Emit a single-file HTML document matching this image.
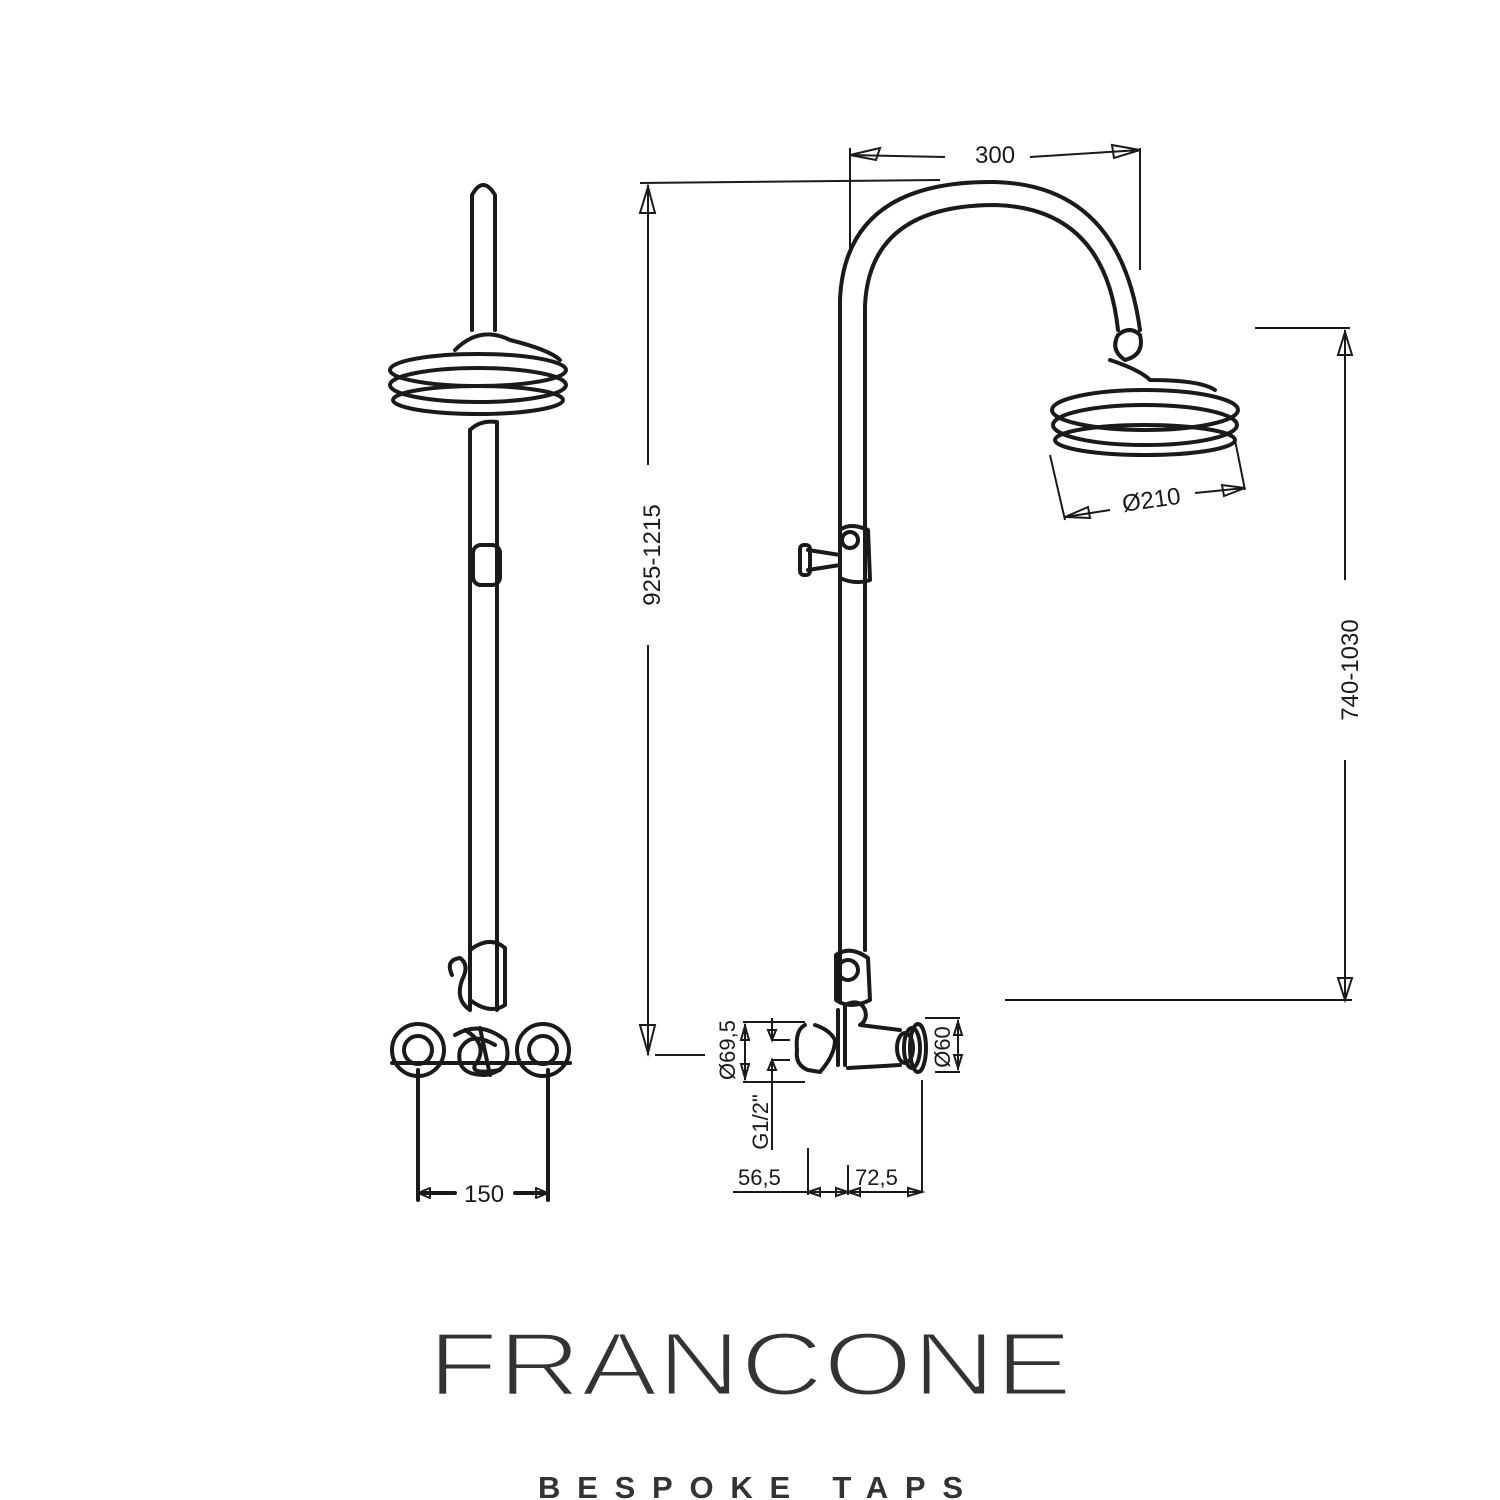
<!DOCTYPE html>
<html><head><meta charset="utf-8"><style>
html,body{margin:0;padding:0;background:#fff;}
svg{display:block;}
</style></head><body>
<svg width="1500" height="1500" viewBox="0 0 1500 1500" xmlns="http://www.w3.org/2000/svg">
<g fill="none" stroke="#1a1a1a" stroke-width="4" stroke-linecap="round" stroke-linejoin="round">
<!-- LEFT VIEW -->
<path d="M472 330 L472 195 Q483 175 495 195 L495 330"/>
<path d="M455 350 Q480 325 510 340 Q550 350 560 360"/>
<ellipse cx="478" cy="370" rx="88" ry="16"/>
<ellipse cx="478" cy="385" rx="88" ry="17"/>
<ellipse cx="478" cy="400" rx="85" ry="14"/>
<path d="M470 430 Q480 420 497 422 L497 1010"/>
<path d="M470 430 L470 1010"/>
<rect x="473" y="545" width="27" height="40" rx="8"/>
<path d="M470 950 Q490 935 505 948 L505 1005 Q490 1015 470 1000"/>
<path d="M452 975 Q445 960 460 958 Q470 965 462 980 Q455 1000 470 1010"/>
<circle cx="418" cy="1050" r="26"/>
<circle cx="418" cy="1050" r="14"/>
<circle cx="543" cy="1050" r="26"/>
<circle cx="543" cy="1050" r="14"/>
<path d="M455 1035 Q480 1020 505 1040 Q515 1070 485 1075 Q455 1075 460 1050 Q470 1030 495 1045"/>
<path d="M465 1030 Q490 1045 475 1065 Q470 1075 500 1070 M480 1028 L490 1075"/>
<path d="M392 1063 L570 1063"/>
<path d="M418 1070 L418 1200 M548 1070 L548 1200"/>
<path d="M418 1193 L455 1193 M515 1193 L548 1193"/>
<path d="M418 1193 L430 1188 L430 1198 Z M548 1193 L536 1188 L536 1198 Z" stroke-width="2"/>
<!-- RIGHT VIEW pipe -->
<path d="M840 1000 L840 300 Q845 180 995 182 Q1120 185 1140 330"/>
<path d="M865 950 L865 305 Q870 205 995 205 Q1105 208 1118 330"/>
<path d="M1118 335 Q1130 325 1140 335 Q1145 355 1125 360 Q1110 350 1118 335"/>
<path d="M1110 360 Q1140 370 1150 380 Q1200 380 1215 390"/>
<ellipse cx="1145" cy="410" rx="93" ry="20"/>
<ellipse cx="1145" cy="425" rx="92" ry="20"/>
<ellipse cx="1145" cy="440" rx="90" ry="15"/>
<!-- slider -->
<path d="M840 530 Q850 522 868 530 L870 580 Q855 585 840 578 Z"/>
<circle cx="850" cy="540" r="8"/>
<path d="M808 550 L840 555 M808 570 L840 565"/>
<rect x="800" y="545" width="10" height="30" rx="4"/>
<!-- bottom valve -->
<path d="M836 955 Q850 945 868 958 L870 1000 Q850 1010 836 1000 Z"/>
<circle cx="848" cy="970" r="10"/>
<path d="M838 1010 L838 1065 M845 1065 L845 1005 Q860 998 865 1010 Q868 1020 860 1025 L900 1030"/>
<path d="M848 1068 L900 1065"/>
<ellipse cx="905" cy="1048" rx="8" ry="15"/>
<ellipse cx="912" cy="1048" rx="8" ry="20"/>
<ellipse cx="918" cy="1048" rx="8" ry="24"/>
<path d="M805 1025 Q795 1030 797 1050 Q795 1065 808 1070 L820 1072 Q835 1055 835 1040 Q830 1030 815 1025"/>
</g>
<!-- dimensions -->
<g fill="none" stroke="#1a1a1a" stroke-width="2">
<path d="M850 148 L850 255 M1140 148 L1140 270"/>
<path d="M850 155 L945 157 M1030 157 L1140 150"/>
<path d="M850 155 L880 148 L876 160 Z M1140 150 L1112 145 L1114 158 Z"/>
<path d="M640 183 L940 180"/>
<path d="M648 185 L648 465 M648 645 L648 1055"/>
<path d="M648 187 L640 213 L655 213 Z M648 1053 L640 1025 L655 1025 Z"/>
<path d="M655 1055 L705 1055"/>
<path d="M1255 328 L1350 328"/>
<path d="M1345 330 L1345 580 M1345 760 L1345 1000"/>
<path d="M1345 332 L1338 355 L1352 355 Z M1345 1000 L1338 978 L1352 978 Z"/>
<path d="M1005 1000 L1352 1000"/>
<path d="M1050 455 L1065 520 M1235 440 L1245 490"/>
<path d="M1065 517 L1110 510 M1195 493 L1245 488"/>
<path d="M1065 517 L1088 507 L1090 518 Z M1245 488 L1222 485 L1224 496 Z"/>
<path d="M743 1022 L805 1022 M743 1082 L805 1082"/>
<path d="M745 1024 L745 1080"/>
<path d="M745 1026 L741 1040 L749 1040 Z M745 1078 L741 1064 L749 1064 Z"/>
<path d="M772 1018 L772 1040 L790 1040 M772 1150 L772 1060 L790 1060"/>
<path d="M772 1040 L768 1030 L776 1030 Z M772 1060 L768 1070 L776 1070 Z"/>
<path d="M925 1018 L960 1018 M935 1072 L960 1072 M958 1020 L958 1070"/>
<path d="M958 1022 L954 1035 L962 1035 Z M958 1068 L954 1055 L962 1055 Z"/>
<path d="M922 1080 L922 1192 M808 1148 L808 1195 M848 1165 L848 1195"/>
<path d="M733 1192 L922 1192"/>
<path d="M808 1192 L820 1188 L820 1196 Z M848 1192 L836 1188 L836 1196 Z M848 1192 L860 1188 L860 1196 Z M922 1192 L908 1188 L908 1196 Z"/>
</g>
<g font-family="Liberation Sans, sans-serif" fill="#1a1a1a" font-size="24">
<text x="975" y="163">300</text>
<text x="464" y="1202">150</text>
<text x="1122" y="508" transform="rotate(-8 1150 500)">Ø210</text>
<text transform="translate(660 555) rotate(-90)" text-anchor="middle">925-1215</text>
<text transform="translate(1358 670) rotate(-90)" text-anchor="middle">740-1030</text>
<text transform="translate(735 1050) rotate(-90)" text-anchor="middle" font-size="22">Ø69,5</text>
<text transform="translate(768 1122) rotate(-90)" text-anchor="middle" font-size="22">G1/2"</text>
<text transform="translate(950 1047) rotate(-90)" text-anchor="middle" font-size="22">Ø60</text>
<text x="738" y="1185" font-size="22">56,5</text>
<text x="855" y="1185" font-size="22">72,5</text>
</g>
<text x="428" y="1395" font-family="Liberation Sans, sans-serif" font-size="90" fill="#333" stroke="#fff" stroke-width="3" textLength="644" lengthAdjust="spacingAndGlyphs">FRANCONE</text>
<text x="538" y="1498" font-family="Liberation Sans, sans-serif" font-size="31" font-weight="bold" fill="#333" textLength="425" lengthAdjust="spacing">BESPOKE TAPS</text>
</svg>
</body></html>
